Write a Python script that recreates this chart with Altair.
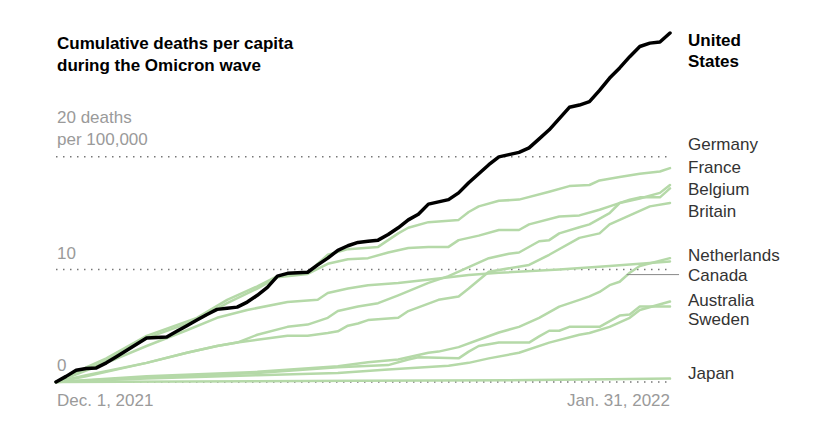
import altair as alt
import pandas as pd

# ---- data: cumulative deaths per 100,000 (day 0 = Dec. 1, 2021; day 61 = Jan. 31, 2022)
us_days = list(range(62))
us_vals = [0, 0.5, 1.05, 1.2, 1.25, 1.7, 2.25, 2.8, 3.35, 3.9,
           3.95, 4.0, 4.5, 5.0, 5.5, 6.0, 6.45, 6.55, 6.65, 7.1,
           7.7, 8.4, 9.4, 9.65, 9.7, 9.75, 10.4, 11.0, 11.7, 12.1,
           12.4, 12.5, 12.6, 13.1, 13.7, 14.4, 14.9, 15.8, 16.0, 16.2,
           16.8, 17.7, 18.5, 19.3, 20.0, 20.2, 20.4, 20.8, 21.6, 22.4,
           23.4, 24.4, 24.6, 24.9, 25.9, 27.0, 27.9, 28.9, 29.8, 30.1,
           30.2, 31.0]

germany_days = [0, 3, 5, 9, 14, 17, 20, 22, 25, 27, 29, 32, 34, 35, 37, 40, 41, 42, 44, 46, 49, 51, 53, 54, 56, 58, 60, 61]
germany_vals = [0, 1.3, 2.1, 4.1, 5.7, 7.3, 8.5, 9.4, 9.7, 11.3, 11.8, 12.0, 13.2, 13.7, 14.2, 14.4, 15.1, 15.6, 16.1, 16.2, 16.9, 17.4, 17.5, 17.9, 18.2, 18.5, 18.7, 19.0]

france_days = [0, 3, 5, 9, 14, 17, 20, 22, 25, 27, 29, 31, 33, 35, 37, 39, 40, 42, 44, 46, 47, 50, 52, 54, 55, 57, 58, 60, 61]
france_vals = [0, 1.1, 1.9, 3.9, 5.5, 7.0, 8.3, 9.3, 9.6, 10.5, 10.9, 11.0, 11.5, 11.9, 12.0, 12.0, 12.6, 13.0, 13.5, 13.5, 14.0, 14.7, 14.8, 15.3, 15.6, 16.2, 16.4, 16.4, 17.2]

belgium_days = [0, 3, 9, 13, 16, 18, 20, 23, 25, 27, 28, 30, 32, 34, 37, 39, 40, 43, 45, 46, 48, 49, 50, 52, 53, 55, 56, 58, 60, 61]
belgium_vals = [0, 0.6, 1.7, 2.6, 3.2, 3.5, 4.2, 4.9, 5.1, 5.7, 6.3, 6.7, 7.0, 7.7, 8.8, 9.4, 9.8, 11.0, 11.4, 11.5, 12.5, 12.6, 13.2, 13.75, 14.0, 15.0, 15.9, 16.3, 16.8, 17.5]

britain_days = [0, 3, 9, 13, 16, 18, 20, 23, 25, 27, 28, 29, 30, 31, 34, 35, 38, 40, 41, 43, 47, 49, 52, 54, 55, 57, 59, 61]
britain_vals = [0, 0.5, 1.7, 2.6, 3.2, 3.5, 3.75, 4.1, 4.1, 4.35, 4.5, 5.0, 5.2, 5.5, 5.7, 6.3, 7.3, 7.6, 8.3, 9.8, 10.4, 11.3, 12.8, 13.2, 14.0, 14.8, 15.6, 15.9]

netherlands_days = [0, 5, 9, 13, 16, 19, 23, 26, 27, 29, 31, 34, 38, 41, 44, 50, 55, 58, 61]
netherlands_vals = [0, 1.7, 3.2, 4.6, 5.7, 6.4, 7.1, 7.3, 7.9, 8.3, 8.6, 8.8, 9.2, 9.5, 9.7, 10.0, 10.3, 10.5, 10.7]

canada_days = [0, 9, 20, 28, 31, 34, 37, 38, 40, 42, 44, 46, 48, 50, 52, 53, 54, 55, 56, 57, 58, 61]
canada_vals = [0, 0.5, 0.9, 1.4, 1.75, 2.0, 2.6, 2.7, 3.1, 3.75, 4.4, 4.9, 5.7, 6.7, 7.3, 7.6, 8.0, 8.6, 8.9, 9.7, 10.3, 11.0]

australia_days = [0, 9, 20, 28, 33, 35, 36, 40, 41, 42, 44, 47, 48, 49, 50, 51, 54, 56, 57, 58, 61]
australia_vals = [0, 0.4, 0.8, 1.3, 1.5, 2.0, 2.2, 2.1, 2.7, 3.2, 3.5, 3.5, 4.05, 4.55, 4.55, 4.9, 4.9, 5.9, 6.0, 6.7, 6.7]

sweden_days = [0, 9, 20, 28, 33, 39, 41, 43, 46, 49, 52, 53, 55, 57, 58, 61]
sweden_vals = [0, 0.3, 0.6, 0.8, 1.1, 1.45, 1.7, 2.1, 2.6, 3.5, 4.2, 4.35, 4.9, 5.7, 6.4, 7.15]

japan_days = [0, 30, 45, 55, 61]
japan_vals = [0, 0.1, 0.15, 0.25, 0.3]

green_series = {
    "Germany": (germany_days, germany_vals),
    "France": (france_days, france_vals),
    "Belgium": (belgium_days, belgium_vals),
    "Britain": (britain_days, britain_vals),
    "Netherlands": (netherlands_days, netherlands_vals),
    "Canada": (canada_days, canada_vals),
    "Australia": (australia_days, australia_vals),
    "Sweden": (sweden_days, sweden_vals),
    "Japan": (japan_days, japan_vals),
}

grid_vals = [0, 10, 20]

# label texts
right_labels = ["Germany", "France", "Belgium", "Britain", "Netherlands", "Canada", "Australia", "Sweden", "Japan"]
right_label_pos = [20.6, 18.55, 16.57, 14.64, 10.79, 8.99, 6.77, 5.09, 0.29]
us_label = ["United", "States"]
us_label_pos = [29.84, 27.95]
title_lines = ["Cumulative deaths per capita", "during the Omicron wave"]
title_pos = [29.55, 27.66]
ylabels = ["20 deaths", "per 100,000", "10", "0"]
ylabel_pos = [23.05, 21.07, 10.9, 1.0]
xlabels = ["Dec. 1, 2021", "Jan. 31, 2022"]
xlabel_days = [0, 61]

# ---- build tables
rows = []
for name, (d, v) in green_series.items():
    for dd, vv in zip(d, v):
        rows.append({"country": name, "day": dd, "value": vv})
green_df = pd.DataFrame(rows)
us_df = pd.DataFrame({"day": us_days, "value": us_vals})

FONT = "Liberation Sans"
xscale = alt.Scale(domain=[0, 61], nice=False, zero=False)
yscale = alt.Scale(domain=[0, 31], nice=False, zero=False)


def X(f):
    return alt.X(f, scale=xscale, axis=None)


def Y(f):
    return alt.Y(f, scale=yscale, axis=None)


grid_df = pd.DataFrame({"v": grid_vals, "a": [0] * 3, "b": [61] * 3})
grid = alt.Chart(grid_df).mark_rule(
    color="#777", strokeWidth=1.5, strokeDash=[1.5, 5.5]
).encode(y=Y("v:Q"), x=X("a:Q"), x2="b:Q")

green = alt.Chart(green_df).mark_line(
    color="#b5d9a8", strokeWidth=2.5, strokeJoin="round", strokeCap="round"
).encode(x=X("day:Q"), y=Y("value:Q"), detail="country:N")

us = alt.Chart(us_df).mark_line(
    color="#000000", strokeWidth=3.5, strokeJoin="round", strokeCap="round"
).encode(x=X("day:Q"), y=Y("value:Q"))

leader = alt.Chart(pd.DataFrame({"a": [56.7], "b": [61.9], "v": [9.54]})).mark_rule(
    color="#888", strokeWidth=1
).encode(x=X("a:Q"), x2="b:Q", y=Y("v:Q"))

rlab = alt.Chart(pd.DataFrame({"t": right_labels, "v": right_label_pos, "d": [61] * len(right_labels)})).mark_text(
    align="left", baseline="alphabetic", dx=18, font=FONT, fontSize=17, color="#333"
).encode(x=X("d:Q"), y=Y("v:Q"), text="t:N")

uslab = alt.Chart(pd.DataFrame({"t": us_label, "v": us_label_pos, "d": [61, 61]})).mark_text(
    align="left", baseline="alphabetic", dx=18, font=FONT, fontSize=17, fontWeight="bold", color="#000"
).encode(x=X("d:Q"), y=Y("v:Q"), text="t:N")

ttl = alt.Chart(pd.DataFrame({"t": title_lines, "v": title_pos, "d": [0, 0]})).mark_text(
    align="left", baseline="alphabetic", dx=1, font=FONT, fontSize=17, fontWeight="bold", color="#000"
).encode(x=X("d:Q"), y=Y("v:Q"), text="t:N")

ylab = alt.Chart(pd.DataFrame({"t": ylabels, "v": ylabel_pos, "d": [0] * 4})).mark_text(
    align="left", baseline="alphabetic", dx=1, font=FONT, fontSize=17, color="#9a9a9a"
).encode(x=X("d:Q"), y=Y("v:Q"), text="t:N")

xlab_l = alt.Chart(pd.DataFrame({"t": [xlabels[0]], "d": [xlabel_days[0]], "v": [-2.17]})).mark_text(
    align="left", baseline="alphabetic", dx=1, font=FONT, fontSize=17, color="#9a9a9a"
).encode(x=X("d:Q"), y=Y("v:Q"), text="t:N")

xlab_r = alt.Chart(pd.DataFrame({"t": [xlabels[1]], "d": [xlabel_days[1]], "v": [-2.17]})).mark_text(
    align="right", baseline="alphabetic", font=FONT, fontSize=17, color="#9a9a9a"
).encode(x=X("d:Q"), y=Y("v:Q"), text="t:N")

chart = alt.layer(grid, green, us, leader, rlab, uslab, ttl, ylab, xlab_l, xlab_r).properties(
    width=614, height=349,
    autosize=alt.AutoSizeParams(type="none"),
    padding=alt.Padding(left=48, top=25, right=160, bottom=40),
).configure_view(stroke=None)

chart.save("out.html", embed_options={"renderer": "svg", "actions": False})
